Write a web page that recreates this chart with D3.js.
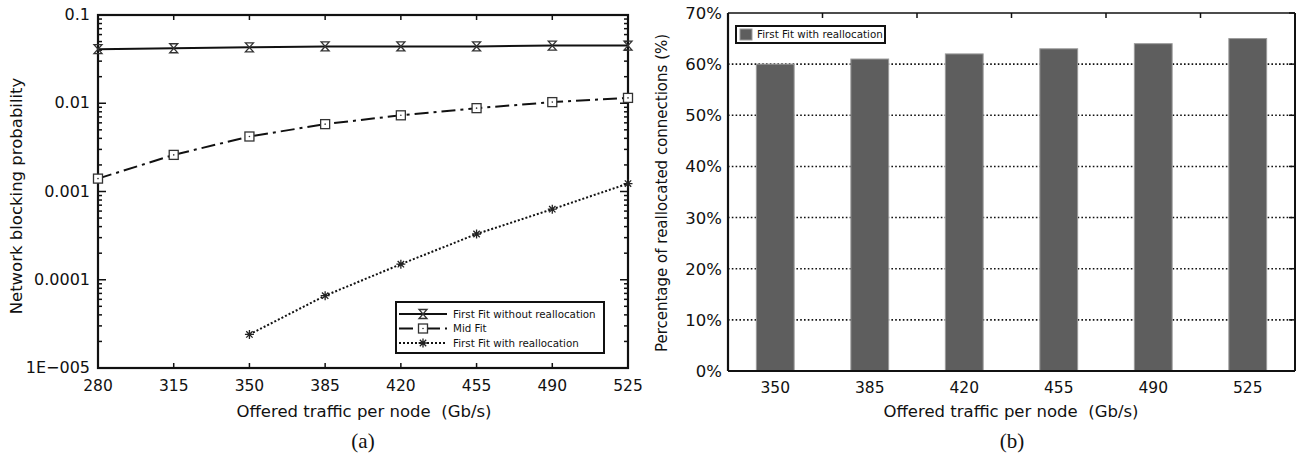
<!DOCTYPE html>
<html>
<head>
<meta charset="utf-8">
<script src="https://cdn.jsdelivr.net/npm/d3@7"></script>
<style>
  body { margin: 0; background: #fff; }
  text { font-family: "DejaVu Sans", Verdana, sans-serif; fill: #111; }
  .cap { font-family: "Liberation Serif", "Times New Roman", serif; }
</style>
</head>
<body>
<div id="chart"></div>
<script>
// ---- data ----
var loads = [280, 315, 350, 385, 420, 455, 490, 525];
var ffNoRealloc = [0.041, 0.042, 0.043, 0.044, 0.044, 0.044, 0.045, 0.045];
var midFit = [0.0014, 0.0026, 0.0042, 0.0058, 0.0073, 0.0088, 0.0103, 0.0115];
var ffRealloc = [null, null, 2.4e-5, 6.6e-5, 1.5e-4, 3.3e-4, 6.3e-4, 1.23e-3];
var logTicks = [0.1, 0.01, 0.001, 0.0001, 0.00001];
var logTickLabels = ["0.1", "0.01", "0.001", "0.0001", "1E\u2212005"];

var barLoads = ["350", "385", "420", "455", "490", "525"];
var reallocPct = [60, 61, 62, 63, 64, 65];
var pctTicks = [0, 10, 20, 30, 40, 50, 60, 70];

var svg = d3.select("#chart").append("svg")
    .attr("width", 1302)
    .attr("height", 458);

/*
 * (a) blocking probability, log scale
 */
var a = {left: 98, right: 628, top: 15, bottom: 368};

var xA = d3.scaleLinear().domain([280, 525]).range([a.left, a.right]);
var yA = d3.scaleLog().domain([1e-5, 0.1]).range([a.bottom, a.top]);

var gA = svg.append("g");

// minor + major ticks on left and right edges
var minor = [];
for (var e = -5; e < -1; e++) {
    for (var m = 2; m <= 9; m++) minor.push(m * Math.pow(10, e));
}
[a.left, a.right].forEach(function(xEdge, side) {
    var dir = side == 0 ? 1 : -1;
    gA.selectAll(null).data(minor).enter().append("line")
        .attr("x1", xEdge).attr("x2", xEdge + dir * 4)
        .attr("y1", d => yA(d)).attr("y2", d => yA(d))
        .attr("stroke", "#111").attr("stroke-width", 1.5);
    gA.selectAll(null).data(logTicks).enter().append("line")
        .attr("x1", xEdge).attr("x2", xEdge + dir * 8)
        .attr("y1", d => yA(d)).attr("y2", d => yA(d))
        .attr("stroke", "#111").attr("stroke-width", 1.5);
});
// x ticks top and bottom
[a.top, a.bottom].forEach(function(yEdge, side) {
    var dir = side == 0 ? 1 : -1;
    gA.selectAll(null).data(loads).enter().append("line")
        .attr("x1", d => xA(d)).attr("x2", d => xA(d))
        .attr("y1", yEdge).attr("y2", yEdge + dir * 5)
        .attr("stroke", "#111").attr("stroke-width", 1.5);
});

gA.append("rect")
    .attr("x", a.left).attr("y", a.top)
    .attr("width", a.right - a.left).attr("height", a.bottom - a.top)
    .attr("fill", "none").attr("stroke", "#111").attr("stroke-width", 2.2);

// tick labels
gA.selectAll(null).data(logTicks).enter().append("text")
    .attr("x", a.left - 8).attr("y", d => yA(d) + 5)
    .attr("text-anchor", "end").attr("font-size", 16)
    .text((d, i) => logTickLabels[i]);
gA.selectAll(null).data(loads).enter().append("text")
    .attr("x", d => xA(d)).attr("y", 391)
    .attr("text-anchor", "middle").attr("font-size", 15.5)
    .text(d => d);

gA.append("text")
    .attr("transform", "translate(22,196) rotate(-90)")
    .attr("text-anchor", "middle").attr("font-size", 16.5)
    .text("Network blocking probability");
gA.append("text")
    .attr("x", 364).attr("y", 417)
    .attr("text-anchor", "middle").attr("font-size", 16.5)
    .text("Offered traffic per node\u00a0\u00a0(Gb/s)");
gA.append("text").attr("class", "cap")
    .attr("x", 363).attr("y", 448)
    .attr("text-anchor", "middle").attr("font-size", 21)
    .text("(a)");

// series
var series = [
    {name: "First Fit without reallocation", values: ffNoRealloc, dash: null, marker: "hourglass"},
    {name: "Mid Fit", values: midFit, dash: "14,5,3,5", marker: "square"},
    {name: "First Fit with reallocation", values: ffRealloc, dash: "2,2", marker: "star"}
];

var line = d3.line()
    .defined(d => d.v != null)
    .x(d => xA(d.x))
    .y(d => yA(d.v));

function drawMarker(g, type) {
    if (type == "hourglass") {
        g.append("path").attr("d", "M-4,-4.5L4,-4.5L-4,4.5L4,4.5Z")
            .attr("fill", "none").attr("stroke", "#333").attr("stroke-width", 1.3);
    } else if (type == "square") {
        g.append("rect").attr("x", -4.5).attr("y", -4.5).attr("width", 9).attr("height", 9)
            .attr("fill", "#fff").attr("stroke", "#333").attr("stroke-width", 1.3);
        g.append("circle").attr("r", 0.8).attr("fill", "#333");
    } else {
        g.append("path").attr("d", "M-4.5,0H4.5M0,-4.5V4.5M-3.2,-3.2L3.2,3.2M-3.2,3.2L3.2,-3.2")
            .attr("fill", "none").attr("stroke", "#222").attr("stroke-width", 1.3);
    }
}

series.forEach(function(s) {
    var pts = loads.map((x, i) => ({x: x, v: s.values[i]}));
    gA.append("path")
        .attr("d", line(pts))
        .attr("fill", "none").attr("stroke", "#111").attr("stroke-width", 2)
        .attr("stroke-dasharray", s.dash);
    pts.filter(p => p.v != null).forEach(function(p) {
        drawMarker(gA.append("g").attr("transform", "translate(" + xA(p.x) + "," + yA(p.v) + ")"), s.marker);
    });
});

// legend (a)
var legA = gA.append("g").attr("transform", "translate(396,302)");
legA.append("rect").attr("width", 208).attr("height", 51)
    .attr("fill", "#fff").attr("stroke", "#111").attr("stroke-width", 2);
series.forEach(function(s, i) {
    var yy = 12 + i * 14.5;
    legA.append("line").attr("x1", 3).attr("x2", 51).attr("y1", yy).attr("y2", yy)
        .attr("stroke", "#111").attr("stroke-width", 2).attr("stroke-dasharray", s.dash);
    drawMarker(legA.append("g").attr("transform", "translate(27," + yy + ")"), s.marker);
    legA.append("text").attr("x", 57).attr("y", yy + 3.6)
        .attr("font-size", 10.3).text(s.name);
});

/*
 * (b) percentage of reallocated connections
 */
var b = {left: 728, right: 1295, top: 13, bottom: 371};

var xB = d3.scaleBand().domain(barLoads).range([b.left, b.right])
    .paddingInner(0.6).paddingOuter(0.3);
var yB = d3.scaleLinear().domain([0, 70]).range([b.bottom, b.top]);

var gB = svg.append("g");

// dotted grid
gB.selectAll(null).data(pctTicks.filter(d => d > 0 && d < 70)).enter().append("line")
    .attr("x1", b.left).attr("x2", b.right)
    .attr("y1", d => yB(d)).attr("y2", d => yB(d))
    .attr("stroke", "#111").attr("stroke-width", 1.6).attr("stroke-dasharray", "1.6,2.2");

// bars
gB.selectAll(".bar").data(reallocPct).enter().append("rect")
    .attr("class", "bar")
    .attr("x", (d, i) => xB(barLoads[i]))
    .attr("width", xB.bandwidth())
    .attr("y", d => yB(d))
    .attr("height", d => b.bottom - yB(d))
    .attr("fill", "#5e5e5e").attr("stroke", "#9a9a9a").attr("stroke-width", 1);

// right axis ticks
gB.selectAll(null).data(pctTicks).enter().append("line")
    .attr("x1", b.right).attr("x2", b.right - 6)
    .attr("y1", d => yB(d)).attr("y2", d => yB(d))
    .attr("stroke", "#111").attr("stroke-width", 1.5);
// top ticks at band boundaries
var step = xB.step();
gB.selectAll(null).data(barLoads.slice(1)).enter().append("line")
    .attr("x1", d => xB(d) - step * 0.3).attr("x2", d => xB(d) - step * 0.3)
    .attr("y1", b.top).attr("y2", b.top + 5)
    .attr("stroke", "#111").attr("stroke-width", 1.5);

// frame
gB.append("line").attr("x1", b.left).attr("x2", b.right).attr("y1", b.top).attr("y2", b.top)
    .attr("stroke", "#111").attr("stroke-width", 1.5);
gB.append("line").attr("x1", b.right).attr("x2", b.right).attr("y1", b.top).attr("y2", b.bottom)
    .attr("stroke", "#111").attr("stroke-width", 2);
gB.append("line").attr("x1", b.left).attr("x2", b.left).attr("y1", b.top).attr("y2", b.bottom)
    .attr("stroke", "#111").attr("stroke-width", 2.2);
gB.append("line").attr("x1", b.left).attr("x2", b.right).attr("y1", b.bottom).attr("y2", b.bottom)
    .attr("stroke", "#111").attr("stroke-width", 2.2);

// labels
gB.selectAll(null).data(pctTicks).enter().append("text")
    .attr("x", b.left - 6).attr("y", d => yB(d) + 6)
    .attr("text-anchor", "end").attr("font-size", 16.5)
    .text(d => d + "%");
gB.selectAll(null).data(barLoads).enter().append("text")
    .attr("x", d => xB(d) + xB.bandwidth() / 2).attr("y", 393)
    .attr("text-anchor", "middle").attr("font-size", 15.5)
    .text(d => d);

gB.append("text")
    .attr("transform", "translate(667,193) rotate(-90)")
    .attr("text-anchor", "middle").attr("font-size", 15)
    .text("Percentage of reallocated connections (%)");
gB.append("text")
    .attr("x", 1011).attr("y", 417)
    .attr("text-anchor", "middle").attr("font-size", 16.5)
    .text("Offered traffic per node\u00a0\u00a0(Gb/s)");
gB.append("text").attr("class", "cap")
    .attr("x", 1012).attr("y", 448)
    .attr("text-anchor", "middle").attr("font-size", 21)
    .text("(b)");

// legend (b)
var legB = gB.append("g").attr("transform", "translate(736,26)");
legB.append("rect").attr("width", 149).attr("height", 17)
    .attr("fill", "#fff").attr("stroke", "#111").attr("stroke-width", 2);
legB.append("rect").attr("x", 4).attr("y", 3).attr("width", 12).attr("height", 11)
    .attr("fill", "#5e5e5e").attr("stroke", "#9a9a9a");
legB.append("text").attr("x", 21).attr("y", 12.4)
    .attr("font-size", 10.3).text("First Fit with reallocation");
</script>
</body>
</html>
